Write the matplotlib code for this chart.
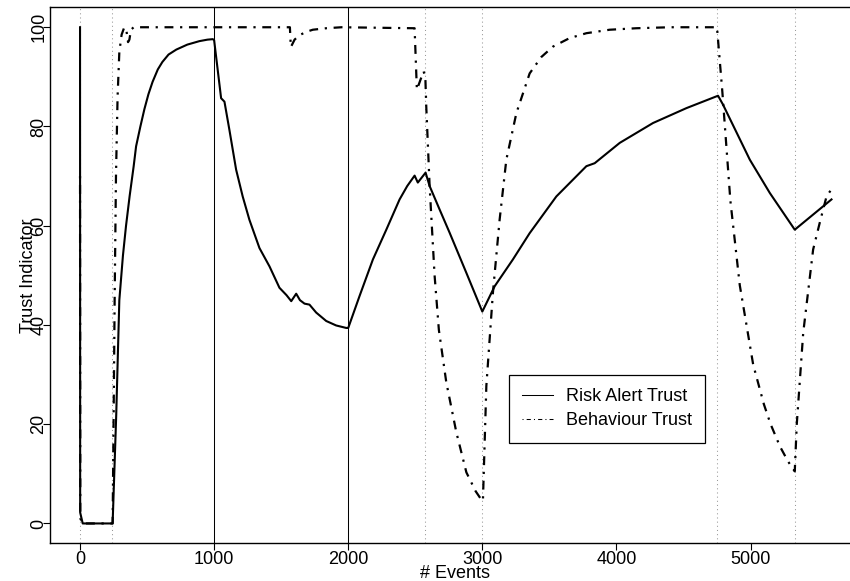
import matplotlib
matplotlib.use("Agg")
import matplotlib.pyplot as plt
from matplotlib.lines import Line2D

# ---- data ----
risk_x = [0, 1, 20, 243, 270, 293, 320, 343, 370, 400, 418, 450, 480, 510, 541,
          580, 614, 660, 718, 800, 890, 950, 990, 1000, 1052, 1077, 1114, 1164,
          1213, 1263, 1338, 1413, 1487, 1540, 1575, 1612, 1640, 1674, 1711, 1761,
          1836, 1910, 1985, 2000, 2084, 2184, 2284, 2383, 2440, 2495, 2519, 2577,
          2607, 2681, 2756, 2881, 3000, 3092, 3228, 3353, 3552, 3776, 3838, 4025,
          4273, 4522, 4758, 4795, 4995, 5144, 5330, 5604]
risk_y = [100, 2.2, 0, 0, 22, 45, 54, 60, 66, 72, 76, 80, 83.5, 86.5, 89,
          91.5, 93, 94.5, 95.5, 96.5, 97.2, 97.5, 97.6, 97.4, 85.7, 85, 79.3, 71.3,
          65.9, 61.2, 55.5, 51.8, 47.5, 46, 44.8, 46.3, 45, 44.3, 44.1, 42.5,
          40.8, 39.9, 39.4, 39.4, 45.8, 53.2, 59.2, 65.3, 68, 70.1, 68.7, 70.7,
          68, 63.3, 58.6, 50.5, 42.7, 47.8, 53.2, 58.5, 65.9, 72, 72.6, 76.7,
          80.7, 83.7, 86.2, 84.4, 73.3, 66.6, 59.2, 65.3]

behav_x = [0, 2, 20, 243, 250, 258, 268, 280, 293, 310, 330, 345, 358, 368, 380,
           400, 430, 1565, 1572, 1600, 1636, 1690, 1736, 1836, 1950, 2495, 2512,
           2540, 2562, 2575, 2582, 2607, 2644, 2676, 2731, 2806, 2881, 2950, 3000,
           3005, 3030, 3079, 3129, 3179, 3254, 3353, 3440, 3527, 3650, 3776, 3950,
           4149, 4400, 4750, 4790, 4850, 4920, 4970, 5020, 5100, 5150, 5220, 5280,
           5330, 5345, 5393, 5467, 5520, 5567, 5610]
behav_y = [70, 1, 0, 0, 20, 45, 70, 86, 95, 98.5, 100, 99.5, 97, 97.5, 99.5,
           100, 100, 100, 96, 97.5, 98.4, 99.1, 99.5, 99.8, 100, 99.8, 87.4,
           89.5, 91.1, 90, 84, 68, 50, 39, 28.5, 18.4, 10.3, 6.5, 4.5,
           5, 27.7, 46.5, 61.2, 73.3, 82.7, 90.7, 94, 96.1, 97.8, 98.8, 99.5,
           99.8, 100, 100, 87, 65, 48, 40, 32, 24, 20, 15.5, 12.5,
           10.5, 20, 38.4, 55.2, 61, 65.9, 67.6]

phase_lines = [1000, 2000]                      # solid markers
event_lines = [0, 240, 2575, 3000, 4753, 5330]  # dotted markers

x_ticks = [0, 1000, 2000, 3000, 4000, 5000]
y_ticks = [0, 20, 40, 60, 80, 100]

labels = ["Risk Alert Trust", "Behaviour Trust"]

plt.rcParams['font.family'] = ['Liberation Sans', 'DejaVu Sans']
plt.rcParams['font.size'] = 13

fig = plt.figure(figsize=(8.5, 5.81), dpi=100)
# plot box runs past the right edge, as in the cropped original
ax = fig.add_axes([50 / 850, 37.7 / 581, 811 / 850, 535.9 / 581])

for v in event_lines:
    ax.axvline(v, color='#999999', lw=0.75, dashes=(1, 3), zorder=1)
for v in phase_lines:
    ax.axvline(v, color='black', lw=0.75, zorder=1)

DOTDASH = (1, 3, 4, 3)
ax.plot(risk_x, risk_y, color='black', lw=1.5, zorder=3)
ax.plot(behav_x, behav_y, color='black', lw=1.6, dashes=DOTDASH, zorder=3)

ax.set_xlim(-224, 5824)
ax.set_ylim(-4, 104)
ax.set_xticks(x_ticks)
ax.set_yticks(y_ticks)
ax.tick_params(direction='out', length=5, width=0.8, color='black')
ax.tick_params(axis='x', pad=0.5)
ax.tick_params(axis='y', pad=-3)
for tl in ax.get_yticklabels():
    tl.set_rotation(90)
    tl.set_va('center')
for s in ax.spines.values():
    s.set_linewidth(1.0)
ax.spines['right'].set_visible(False)

fig.text(33 / 850, 1 - 275.4 / 581, "Trust Indicator", rotation=90,
         rotation_mode='anchor', ha='center', va='baseline')
fig.text(455.5 / 850, 1 - 578 / 581, "# Events", ha='center', va='baseline')

handles = [Line2D([], [], color='black', lw=0.75),
           Line2D([], [], color='black', lw=0.75, dashes=DOTDASH)]
leg = ax.legend(handles, labels, loc='upper left', bbox_to_anchor=(3198, 30),
                bbox_transform=ax.transData, borderaxespad=0, fancybox=False,
                framealpha=1, edgecolor='black', borderpad=0.75,
                labelspacing=0.4, handlelength=1.7, handletextpad=0.7)
leg.get_frame().set_linewidth(0.9)

fig.savefig("out.png", dpi=100)
